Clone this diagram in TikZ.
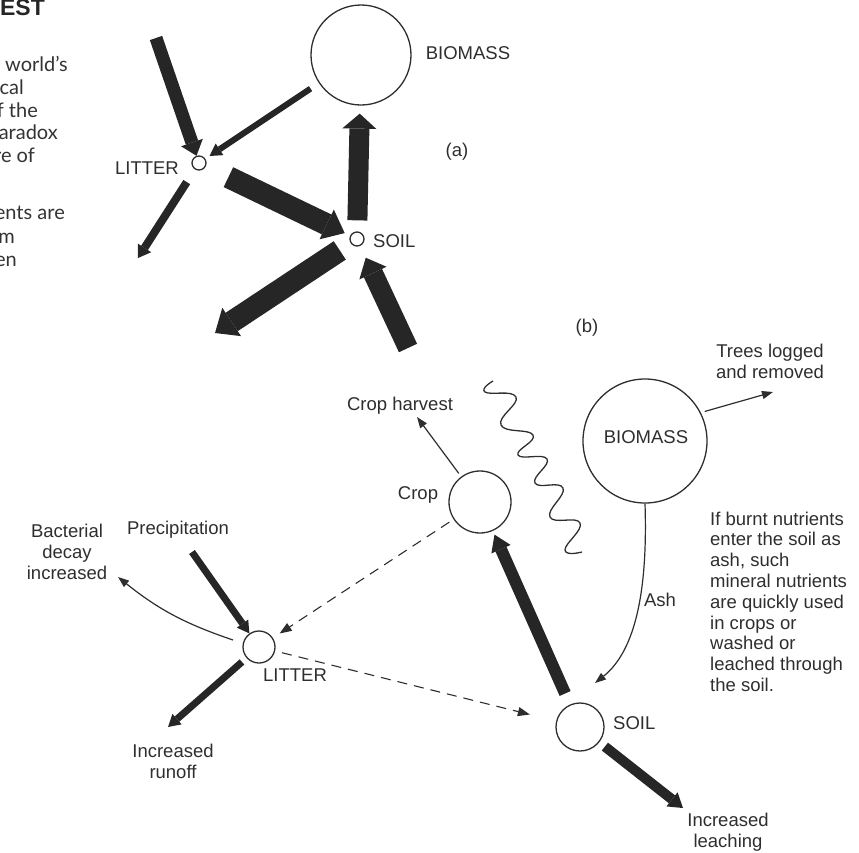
\documentclass[tikz,border=0pt]{standalone}
\usepackage{fontspec}
\setmainfont{Liberation Sans}
\newfontfamily\optfont{Lato}
\usetikzlibrary{arrows.meta,calc}
\definecolor{ink}{HTML}{2E2E2E}
\definecolor{blk}{HTML}{262626}
\begin{document}
\begin{tikzpicture}[x=1pt,y=-1pt,
  lbl/.style={inner sep=0pt, text=ink, font=\fontsize{18.5}{21}\selectfont, align=center},
  ring/.style={circle, draw=ink, line width=1.3pt, inner sep=0pt, minimum size=#1},
  fat/.style n args={3}{draw=blk, line width=#1, -{Triangle[length=#2, width=#3, line width=0pt]}},
  thinarr/.style={draw=ink, line width=1.2pt, -{Triangle[length=11pt, width=8pt]}},
  dsh/.style={draw=ink, line width=1.1pt, dash pattern=on 10pt off 7pt, -{Triangle[length=12pt, width=9pt]}},
  pagetext/.style={inner sep=0pt, anchor=base east, text=black!80, font=\optfont\fontsize{20}{23}\selectfont}
]
\useasboundingbox (0,0) rectangle (859,852);

% ---------- cropped page text ----------
\node[anchor=base east, inner sep=0pt, text=black!85, font=\bfseries\fontsize{23}{25}\selectfont] (est) at (45,15.5) {EST};
\node[pagetext] (t1) at (68,71) {world’s};
\node[pagetext] (t2) at (24,94) {cal};
\node[pagetext] (t3) at (38,117) {f the};
\node[pagetext] (t4) at (58,139) {aradox};
\node[pagetext] (t5) at (35,162) {re of};
\node[pagetext] (t6) at (65,219) {ents are};
\node[pagetext] (t7) at (15,243) {m};
\node[pagetext] (t8) at (17,266) {en};

% ---------- diagram (a) ----------
\node[ring=100pt] (bioA) at (361,55) {};
\node[ring=14pt] (litA) at (199,163) {};
\node[ring=14pt] (soilA) at (357,239) {};
\node[lbl] (lbioA) at (468,53) {BIOMASS};
\node[lbl, anchor=east] (llitA) at (179,168) {LITTER};
\node[lbl, anchor=west] (lsoilA) at (373,241) {SOIL};
\node[lbl] (la) at (457,152) {(a)};

\coordinate (a1) at (156,38);
\coordinate (a3) at (138,258);
\coordinate (a6) at (215,333);
\coordinate (a7) at (408,348);

\draw[fat={13pt}{14pt}{23pt}] (a1) -- (litA);
\draw[fat={6pt}{12pt}{14pt}, shorten <=10pt, shorten >=5pt] (bioA) -- (litA);
\draw[fat={8pt}{12pt}{16pt}, shorten <=15pt] (litA) -- (a3);
\draw[fat={22pt}{20pt}{33pt}, shorten <=25pt, shorten >=6pt] (litA) -- (soilA);
\draw[fat={20pt}{15pt}{34pt}, shorten <=11pt, shorten >=8pt] (soilA) -- (bioA);
\draw[fat={22pt}{20pt}{34pt}, shorten <=13pt] (soilA) -- (a6);
\draw[fat={20pt}{17pt}{30pt}, shorten >=13pt] (a7) -- (soilA);

% ---------- diagram (b) ----------
\node[lbl] (lb) at (587,328) {(b)};
\node[ring=124pt] (bioB) at (645,441) {};
\node[lbl] (lbioB) at (646,437) {BIOMASS};
\node[ring=62pt] (cropB) at (480,502) {};
\node[ring=32pt] (litB) at (259,647) {};
\node[ring=48pt] (soilB) at (580,727) {};

\node[lbl] (ltrees) at (770,361) {Trees logged\\and removed};
\node[lbl] (lharv) at (400,406) {Crop harvest};
\node[lbl] (lcrop) at (418,495) {Crop};
\node[lbl] (lprec) at (178,530) {Precipitation};
\node[lbl] (lbact) at (67,552) {Bacterial\\decay\\increased};
\node[lbl] (llitB) at (295,675) {LITTER};
\node[lbl] (lrun) at (173,761) {Increased\\runoff};
\node[lbl] (lash) at (660,600) {Ash};
\node[lbl, anchor=west] (lsoilB) at (613,723) {SOIL};
\node[lbl] (lleach) at (728,832) {Increased\\leaching};

\foreach \t [count=\i from 0] in {If burnt nutrients, enter the soil as, {ash, such}, mineral nutrients, are quickly used, in crops or, washed or, leached through, the soil.}
  \node[lbl, anchor=base west] (par\i) at (710,{525+20.8*\i}) {\t};

\coordinate (harvEnd) at (417,417);
\coordinate (treesEnd) at (773,392);
\coordinate (precStart) at (192,552);
\coordinate (runEnd) at (168,727);
\coordinate (bactEnd) at (118,577);
\coordinate (leachEnd) at (683,808);

\draw[thinarr, shorten <=4pt] (cropB) -- (harvEnd);
\draw[thinarr, shorten <=4pt] (bioB.27) -- (treesEnd);
\draw[thinarr] (bioB.south) .. controls (648,595) and (634,652) .. ([shift={(15,-44)}]soilB.center);
\draw[fat={12pt}{16pt}{21pt}, shorten <=12pt, shorten >=4pt] (soilB) -- (cropB);
\draw[fat={10pt}{14pt}{18pt}, shorten <=7pt] (soilB) -- (leachEnd);
\draw[dsh, shorten <=5pt, shorten >=8pt] (cropB) -- (litB);
\draw[dsh, shorten <=7pt, shorten >=27pt] (litB) -- (soilB);
\draw[fat={7pt}{12pt}{14pt}] (precStart) -- (litB);
\draw[fat={7pt}{12pt}{14pt}, shorten <=6pt] (litB) -- (runEnd);
\draw[thinarr] ([shift={(-26,-7)}]litB.center) to[bend left=10] (bactEnd);

% wavy line
\draw[ink, line width=1.3pt] plot[smooth, tension=0.8] coordinates {(493,381) (485,392) (516,397) (501,425) (533,435) (518,455) (547,459) (535,483) (563,488) (550,517) (580,523) (565,550) (582,552)};
\end{tikzpicture}
\end{document}
